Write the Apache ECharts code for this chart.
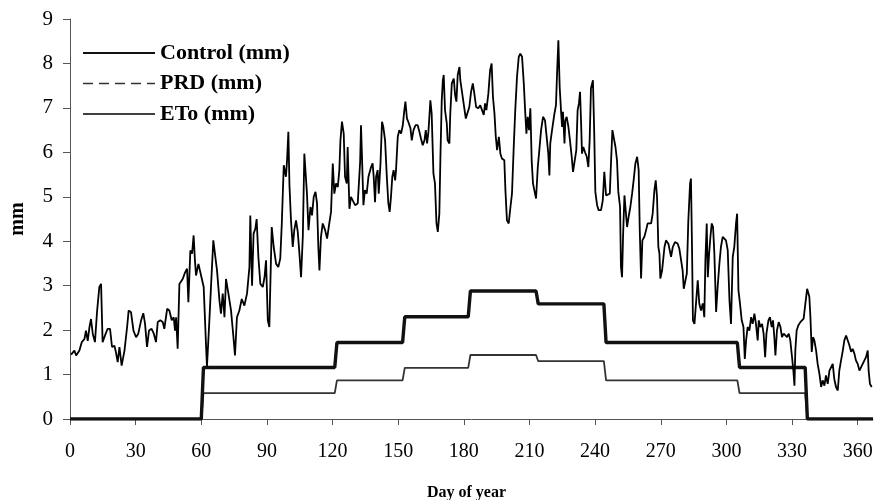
<!DOCTYPE html>
<html>
<head>
<meta charset="utf-8">
<script src="https://cdn.jsdelivr.net/npm/echarts@6/dist/echarts.min.js"></script>
<style>
  html, body { margin: 0; padding: 0; background: #fff; }
  #chart { width: 876px; height: 500px; }
</style>
</head>
<body>
<div id="chart"></div>
<script>
// Irrigation applied (Control and PRD) as daily steps, and reference ETo, over the year.
const xTicks = [0, 30, 60, 90, 120, 150, 180, 210, 240, 270, 300, 330, 360];
const yTicks = [0, 1, 2, 3, 4, 5, 6, 7, 8, 9];

// Control irrigation: breakpoints of the step line
const controlDays = [0, 60, 61, 121, 122, 152, 153, 182, 183, 213, 214, 244, 245, 305, 306, 336, 337, 367];
const controlMm   = [0, 0, 1.16, 1.16, 1.72, 1.72, 2.3, 2.3, 2.88, 2.88, 2.59, 2.59, 1.72, 1.72, 1.16, 1.16, 0, 0];

// PRD irrigation: breakpoints of the step line
const prdDays = [0, 60, 61, 121, 122, 152, 153, 182, 183, 213, 214, 244, 245, 305, 306, 336, 337, 367];
const prdMm   = [0, 0, 0.58, 0.58, 0.87, 0.87, 1.15, 1.15, 1.44, 1.44, 1.3, 1.3, 0.87, 0.87, 0.58, 0.58, 0, 0];

// Daily reference evapotranspiration
const etoDays = [
  0.5, 2, 2.8, 4.3, 5.4, 6.6, 7.3, 8.1, 8.9, 9.6, 10.4, 11.4, 12.4, 13.4, 14.2, 14.9, 16, 17.2, 18.3, 19.2,
  20.3, 21, 21.8, 22.6, 23.6, 24.9, 26.1, 26.8, 27.9, 29, 30.2, 31.2, 32.5, 33.5, 34.3, 35.2, 36.1, 37.3, 38.3, 39.3,
  40.1, 41.3, 42.4, 43.1, 44.4, 45.4, 46.5, 47.4, 48, 48.5, 49.2, 50, 51.5, 52.6, 53.5, 54.1, 55, 55.8, 56.5, 57.1,
  57.6, 58.7, 59.9, 61.1, 62.2, 62.6, 63.7, 64.5, 65.5, 66.3, 67.2, 68.3, 69, 69.8, 70.6, 71.3, 72.4, 73.6, 74.7, 75.4,
  76.3, 77.4, 78.5, 79.7, 80.9, 82, 82.4, 83.2, 83.9, 84.7, 85.3, 86.1, 87, 88.1, 88.9, 89.6, 90.4, 91.1, 92.2, 93.1,
  94.2, 95.2, 96.1, 96.8, 97.7, 98.3, 98.7, 99.2, 99.8, 100.3, 101, 101.8, 102.5, 103.3, 104.1, 104.8, 105.6, 106.4, 107.1, 107.6,
  108.3, 109, 109.9, 110.6, 111.4, 112.2, 112.9, 113.5, 114, 114.7, 115.5, 116.6, 117.5, 118.5, 119.3, 120.1, 120.8, 121.6, 122.4, 123.1,
  123.6, 124.3, 125.1, 125.7, 126.5, 126.9, 127.7, 128.4, 129.2, 130.3, 131.5, 132.6, 133, 133.5, 134.1, 134.8, 135.6, 136.4, 137.6, 138.3,
  138.8, 139.4, 139.9, 140.6, 141.1, 141.9, 142.6, 143.2, 144, 144.8, 145.5, 146.1, 146.7, 147.3, 147.9, 148.6, 149, 149.8, 150.5, 151.3,
  152.1, 152.8, 153.3, 154, 154.6, 155.6, 156.2, 157, 157.9, 158.9, 159.7, 160.4, 161.2, 162, 162.6, 163.2, 163.8, 164.3, 164.7, 165.3,
  166.1, 166.8, 167.5, 168.1, 168.8, 169.3, 169.9, 170.4, 170.8, 171.4, 172.2, 172.6, 173.4, 173.8, 174.5, 175.4, 176, 176.6, 177.2, 178,
  178.4, 179.2, 179.9, 180.9, 181.8, 182.5, 183.3, 184.1, 184.8, 185.6, 186.6, 187.5, 188.3, 189.1, 189.7, 190.3, 191.2, 192, 192.7, 193.3,
  194, 194.6, 195.2, 196, 196.7, 197.4, 198.5, 199, 199.7, 200.5, 201.3, 202, 202.8, 203.5, 204.3, 205.1, 205.8, 206.6, 207.4, 208,
  208.6, 209.2, 209.8, 210.4, 211, 211.6, 212.2, 213, 213.8, 214.5, 215.3, 216.2, 217.1, 218, 218.6, 219.1, 219.5, 220.2, 220.8, 221.4,
  222.1, 222.6, 223.2, 223.8, 224.4, 224.9, 225.3, 226, 226.4, 227, 227.8, 228.5, 229.3, 229.9, 230.8, 231.4, 232, 232.6, 233.1, 233.6,
  234, 234.6, 235.4, 236.2, 236.9, 237.5, 238.1, 239, 239.6, 240.1, 240.9, 241.6, 242.7, 243.5, 244.2, 245, 245.8, 246.7, 247.3, 247.9,
  248.5, 249.3, 250, 250.6, 251.4, 251.8, 252.3, 252.8, 253.4, 254, 254.6, 255.3, 256.1, 256.9, 257.6, 258.4, 259.2, 259.9, 260.4, 261,
  261.6, 262.5, 263.3, 264, 264.8, 265.6, 266.3, 267.1, 267.7, 268.3, 268.9, 269.4, 269.8, 270.6, 271.7, 272.4, 273.5, 274.7, 275.5, 276.5,
  277.7, 278.5, 279.3, 280, 280.5, 281.2, 281.9, 282.6, 283.4, 283.8, 284.3, 284.7, 285.4, 286.1, 286.9, 287.6, 288.4, 289.2, 289.9, 290.4,
  291, 291.5, 292.1, 292.7, 293.3, 293.9, 294.5, 295.3, 296, 296.8, 297.5, 298.3, 299.1, 299.8, 300.6, 301.4, 302.1, 302.9, 303.6, 304.4,
  304.9, 305.5, 306.2, 307, 307.8, 308.4, 309, 309.7, 310.5, 311.3, 312, 312.8, 313.5, 314.3, 314.8, 315.5, 316.3, 317, 317.7, 318.3,
  319.2, 319.9, 320.7, 321.3, 321.9, 322.4, 323.1, 323.9, 324.7, 325.4, 326.2, 327, 327.7, 328.5, 329.2, 330, 330.6, 331.1, 331.5, 332.1,
  332.9, 333.8, 334.6, 335.3, 336.1, 336.9, 337.5, 337.9, 338.4, 339, 339.6, 340.2, 341, 341.7, 342.5, 343.3, 344, 344.8, 345.5, 346.3,
  347.1, 347.8, 348.6, 349.3, 350.1, 350.9, 351.6, 352.4, 353.2, 353.9, 354.7, 355.4, 356.2, 357, 357.7, 358.5, 359.2, 360, 360.8, 361.5,
  362.3, 363.1, 363.8, 364.6, 365, 365.6, 366.4
];
const etoMm = [
  1.45, 1.54, 1.43, 1.54, 1.73, 1.8, 1.99, 1.76, 2.07, 2.25, 1.92, 1.73, 2.44, 2.97, 3.04, 1.73, 1.88, 2.03, 2.03, 1.62,
  1.65, 1.5, 1.28, 1.62, 1.2, 1.54, 2.07, 2.44, 2.4, 1.99, 1.84, 1.92, 2.22, 2.38, 2.14, 1.62, 1.99, 2.03, 1.92, 1.73,
  2.18, 2.22, 2.18, 2.03, 2.48, 2.44, 2.22, 2.29, 1.99, 2.29, 1.58, 3.04, 3.15, 3.3, 3.38, 2.63, 3.79, 3.72, 4.13, 3.57,
  3.23, 3.49, 3.23, 2.97, 1.62, 1.18, 2.22, 3.04, 4.02, 4.02, 3.34, 2.67, 2.37, 2.82, 2.29, 3.15, 2.82, 2.44, 1.84, 1.43,
  2.29, 2.44, 2.7, 2.55, 2.82, 3.42, 4.58, 3.0, 4.17, 4.28, 4.5, 3.64, 3.04, 2.97, 3.19, 3.57, 2.22, 2.07, 4.32, 3.87,
  3.49, 3.42, 3.61, 4.4, 5.71, 5.75, 5.45, 5.82, 6.46, 5.26, 4.47, 3.87, 4.25, 4.47, 4.21, 3.76, 3.19, 4.1, 5.97, 5.97,
  5.07, 4.25, 4.77, 4.58, 5.0, 5.11, 4.85, 3.87, 3.34, 4.1, 4.4, 4.25, 4.06, 4.4, 4.66, 5.75, 5.07, 5.3, 5.22, 5.6,
  6.27, 6.69, 6.42, 5.45, 5.3, 6.12, 4.73, 5.0, 4.92, 4.81, 4.85, 5.78, 6.61, 5.82, 4.81, 5.15, 5.07, 5.45, 5.67, 5.75,
  5.45, 4.88, 5.45, 5.6, 5.07, 5.75, 6.69, 6.57, 6.27, 5.45, 4.85, 4.66, 5.0, 5.45, 5.6, 5.37, 5.6, 6.35, 6.5, 6.42,
  6.61, 6.95, 7.14, 6.76, 6.69, 6.54, 6.27, 6.5, 6.61, 6.61, 6.46, 6.31, 6.16, 6.27, 6.5, 6.2, 6.46, 6.84, 7.17, 6.87,
  5.52, 5.3, 4.4, 4.21, 4.62, 5.9, 7.17, 7.62, 7.74, 6.95, 6.65, 6.27, 6.2, 6.87, 7.55, 7.66, 7.29, 7.14, 7.74, 7.92,
  7.62, 7.62, 7.1, 6.76, 6.72, 7.02, 7.36, 7.55, 7.32, 7.02, 6.99, 7.06, 6.95, 6.84, 7.1, 6.95, 7.32, 7.85, 8.0, 7.25,
  6.87, 6.35, 6.05, 6.35, 5.97, 5.86, 5.82, 5.15, 4.47, 4.4, 4.77, 5.07, 6.12, 6.95, 7.7, 8.15, 8.22, 8.15, 7.55, 6.95,
  6.42, 6.8, 6.5, 6.99, 5.82, 5.3, 5.15, 4.96, 5.67, 6.05, 6.5, 6.8, 6.72, 6.69, 5.97, 5.48, 6.2, 6.46, 6.46, 6.87,
  7.06, 7.77, 8.52, 7.47, 6.95, 6.57, 6.91, 6.2, 6.72, 6.8, 6.57, 6.27, 5.9, 5.56, 5.56, 6.05, 6.95, 7.1, 7.36, 6.65,
  5.97, 6.12, 6.0, 5.9, 5.67, 6.27, 7.44, 7.62, 6.42, 5.11, 4.81, 4.7, 4.7, 4.92, 5.56, 5.03, 4.99, 5.07, 5.82, 6.5,
  6.5, 6.12, 5.82, 5.11, 4.77, 3.42, 3.19, 4.17, 5.03, 5.07, 4.32, 4.55, 4.77, 5.07, 5.37, 5.75, 5.9, 5.6, 4.25, 3.16,
  4.02, 4.1, 4.25, 4.4, 4.43, 4.4, 4.62, 5.15, 5.37, 4.99, 3.87, 3.72, 3.16, 3.34, 3.87, 4.02, 3.94, 3.65, 3.87, 3.98,
  3.95, 3.83, 3.57, 3.34, 2.93, 2.93, 3.27, 4.47, 5.3, 5.41, 3.8, 2.22, 2.14, 2.11, 3.12, 2.6, 2.44, 2.6, 2.29, 3.57,
  4.4, 3.19, 3.72, 4.1, 4.4, 4.32, 3.72, 2.41, 2.97, 3.5, 3.87, 4.1, 4.13, 4.02, 3.8, 2.67, 2.14, 3.65, 3.87, 4.4,
  4.62, 2.9, 2.6, 2.22, 2.07, 1.35, 1.77, 2.07, 1.99, 2.29, 2.14, 2.37, 2.14, 1.77, 2.22, 2.07, 2.14, 1.92, 1.39, 1.92,
  2.22, 2.29, 2.07, 2.22, 1.84, 1.43, 1.99, 2.18, 2.07, 1.84, 1.92, 1.92, 1.84, 1.92, 1.77, 1.39, 1.09, 0.75, 1.54, 1.99,
  2.11, 2.18, 2.22, 2.26, 2.6, 2.93, 2.9, 2.75, 2.29, 1.51, 1.84, 1.77, 1.54, 1.24, 1.02, 0.72, 0.87, 0.75, 0.98, 0.79,
  1.09, 1.13, 1.24, 0.9, 0.72, 0.64, 1.09, 1.32, 1.54, 1.77, 1.88, 1.84, 1.66, 1.51, 1.58, 1.47, 1.32, 1.24, 1.09, 1.09,
  1.24, 1.28, 1.39, 1.54, 1.09, 0.79, 0.72
];

const zip = (xs, ys) => xs.map((x, i) => [x, ys[i]]);
const serif = '"Liberation Serif", "Times New Roman", serif';

const chart = echarts.init(document.getElementById('chart'), null, { renderer: 'canvas' });
chart.setOption({
  animation: false,
  backgroundColor: '#ffffff',
  grid: { left: 70, right: 3, top: 19, bottom: 81, outerBoundsMode: 'none' },
  legend: {
    orient: 'vertical',
    left: 77,
    top: 37,
    itemWidth: 72,
    itemHeight: 14,
    itemGap: 8.5,
    selectedMode: false,
    itemStyle: { opacity: 0 },
    textStyle: { fontFamily: serif, fontWeight: 'bold', fontSize: 22, color: '#000' },
    data: [
      { name: 'Control (mm)' },
      { name: 'PRD (mm)', lineStyle: { type: [10, 6], width: 1.5 } },
      { name: 'ETo (mm)', lineStyle: { width: 1.5 } }
    ]
  },
  xAxis: {
    type: 'value',
    min: 0,
    max: 367,
    name: 'Day of year',
    nameLocation: 'middle',
    nameGap: 66,
    nameTextStyle: { fontFamily: serif, fontWeight: 'bold', fontSize: 16, color: '#000', padding: [0, 10, 0, 0] },
    axisLine: { lineStyle: { color: '#555', width: 1 } },
    axisTick: { show: true, length: 6, inside: false, customValues: xTicks, lineStyle: { color: '#555' } },
    axisLabel: { customValues: xTicks, margin: 23, fontFamily: serif, fontSize: 20, color: '#000' },
    splitLine: { show: false }
  },
  yAxis: {
    type: 'value',
    min: 0,
    max: 9,
    interval: 1,
    name: 'mm',
    nameLocation: 'middle',
    nameRotate: 90,
    nameGap: 42,
    nameTextStyle: { fontFamily: serif, fontWeight: 'bold', fontSize: 20, color: '#000' },
    axisLine: { show: true, lineStyle: { color: '#555', width: 1 } },
    axisTick: { show: true, length: 7, inside: false, lineStyle: { color: '#555' } },
    axisLabel: { customValues: yTicks, margin: 17, fontFamily: serif, fontSize: 21, color: '#000' },
    splitLine: { show: false }
  },
  series: [
    {
      name: 'Control (mm)',
      type: 'line',
      data: zip(controlDays, controlMm),
      symbol: 'none',
      itemStyle: { color: '#111' },
      lineStyle: { color: '#111', width: 3.4 },
      z: 3
    },
    {
      name: 'PRD (mm)',
      type: 'line',
      data: zip(prdDays, prdMm),
      symbol: 'none',
      itemStyle: { color: '#333' },
      lineStyle: { color: '#333', width: 1.8 },
      z: 2
    },
    {
      name: 'ETo (mm)',
      type: 'line',
      data: zip(etoDays, etoMm),
      symbol: 'none',
      itemStyle: { color: '#000' },
      lineStyle: { color: '#000', width: 1.8 },
      z: 4
    }
  ]
});
</script>
</body>
</html>
